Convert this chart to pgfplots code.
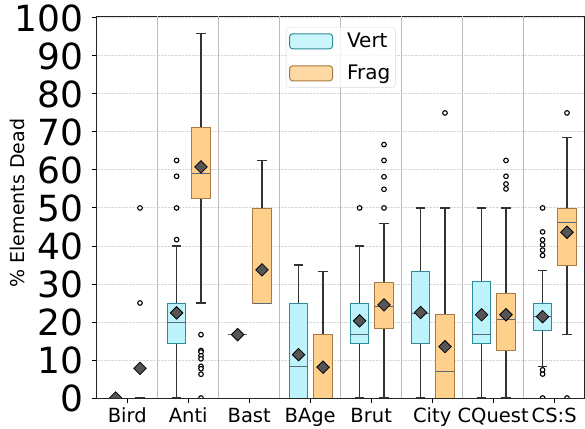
\documentclass[border=0pt]{standalone}
\usepackage{fontspec}
\setmainfont{DejaVu Sans}
\usepackage{pgfplots}
\pgfplotsset{compat=1.18}
\usepgfplotslibrary{statistics}

\definecolor{vertfill}{HTML}{BDF3FB}
\definecolor{vertedge}{HTML}{2E8B9A}
\definecolor{fragfill}{HTML}{FFD08C}
\definecolor{fragedge}{HTML}{A87A45}
\definecolor{medcol}{HTML}{5A6878}
\definecolor{whisk}{HTML}{333333}
\definecolor{meanfill}{HTML}{555555}
\definecolor{gridcol}{HTML}{D8D8D8}
\definecolor{sepcol}{HTML}{BBBBBB}

\pgfplotsset{
  bx/.style={forget plot, line width=0.8bp,
    boxplot/draw direction=y,
    boxplot/box extend=0.3, boxplot/whisker extend=0.155,
    boxplot/every whisker/.style={draw=whisk, line width=1.2bp},
    boxplot/every median/.style={draw=medcol, line width=0.9bp}},
  vbox/.style={bx, draw=vertedge,
    boxplot/every box/.style={fill=vertfill, draw=vertedge}},
  fbox/.style={bx, draw=fragedge,
    boxplot/every box/.style={fill=fragfill, draw=fragedge}},
}

\begin{document}
\begin{tikzpicture}
\begin{axis}[
  at={(0,0)}, anchor=south west,
  scale only axis, width=488bp, height=382bp,
  xmin=0.5, xmax=8.5, ymin=0, ymax=100.5,
  xtick={1,...,8},
  xticklabels={Bird,Anti,Bast,BAge,Brut,City,CQuest,CS:S},
  ytick={0,10,...,100},
  tick align=outside, tick pos=left,
  major tick length=5bp,
  tick style={line width=0.9bp, black},
  axis line style={line width=0.9bp, black!85},
  ymajorgrids,
  major grid style={densely dotted, gridcol, line width=0.9bp},
  extra x ticks={1.5,2.5,...,7.5},
  extra x tick labels={},
  extra x tick style={xmajorgrids=true, major tick length=0pt,
    major grid style={solid, sepcol, line width=1.4bp}},
  /pgf/number format/assume math mode=true,
  yticklabel style={font=\fontsize{36bp}{36bp}\selectfont, inner sep=0pt, xshift=-8bp},
  xticklabel style={font=\fontsize{19.5bp}{19.5bp}\selectfont, anchor=base, inner sep=0pt, yshift=-19bp},
  ylabel={\% Elements Dead},
  ylabel style={font=\fontsize{19bp}{19bp}\selectfont, at={(axis description cs:-0.147,0.51)}, anchor=base},
  clip marker paths=true,
  legend style={at={(axis description cs:0.5,0.971)}, anchor=north,
    draw=black!15, rounded corners=3bp, fill=white, fill opacity=0.8, text opacity=1,
    font=\fontsize{20bp}{20bp}\selectfont, inner xsep=3bp, inner ysep=4bp,
    row sep=12bp, /tikz/every odd column/.append style={column sep=12bp}},
  legend cell align=left,
]

% Vert boxes
\addplot[vbox, boxplot prepared={draw position=0.81, lower whisker=0, lower quartile=0, median=0, upper quartile=0, upper whisker=0}] coordinates {};
\addplot[vbox, boxplot prepared={draw position=1.81, lower whisker=0, lower quartile=14.29, median=20, upper quartile=25, upper whisker=40}] coordinates {};
\addplot[vbox, boxplot prepared={draw position=2.81, lower whisker=16.67, lower quartile=16.67, median=16.67, upper quartile=16.67, upper whisker=16.67}] coordinates {};
\addplot[vbox, boxplot prepared={draw position=3.81, lower whisker=0, lower quartile=0, median=8.33, upper quartile=25, upper whisker=35}] coordinates {};
\addplot[vbox, boxplot prepared={draw position=4.81, lower whisker=0, lower quartile=14.29, median=16.67, upper quartile=25, upper whisker=40}] coordinates {};
\addplot[vbox, boxplot prepared={draw position=5.81, lower whisker=0, lower quartile=14.29, median=22.2, upper quartile=33.33, upper whisker=50}] coordinates {};
\addplot[vbox, boxplot prepared={draw position=6.81, lower whisker=0, lower quartile=14.29, median=16.67, upper quartile=30.8, upper whisker=50}] coordinates {};
\addplot[vbox, boxplot prepared={draw position=7.81, lower whisker=8.33, lower quartile=17.9, median=21.4, upper quartile=25, upper whisker=33.5}] coordinates {};

% Frag boxes
\addplot[fbox, boxplot prepared={draw position=1.21, lower whisker=0, lower quartile=0, median=0, upper quartile=0, upper whisker=0}] coordinates {};
\addplot[fbox, boxplot prepared={draw position=2.21, lower whisker=25, lower quartile=52.6, median=59.1, upper quartile=71.3, upper whisker=95.8}] coordinates {};
\addplot[fbox, boxplot prepared={draw position=3.21, lower whisker=25, lower quartile=25, median=25, upper quartile=50, upper whisker=62.5}] coordinates {};
\addplot[fbox, boxplot prepared={draw position=4.21, lower whisker=0, lower quartile=0, median=0, upper quartile=16.67, upper whisker=33.33}] coordinates {};
\addplot[fbox, boxplot prepared={draw position=5.21, lower whisker=0, lower quartile=18.2, median=24.2, upper quartile=30.3, upper whisker=46}] coordinates {};
\addplot[fbox, boxplot prepared={draw position=6.21, lower whisker=0, lower quartile=0, median=6.9, upper quartile=22, upper whisker=50}] coordinates {};
\addplot[fbox, boxplot prepared={draw position=7.21, lower whisker=0, lower quartile=12.5, median=20.6, upper quartile=27.4, upper whisker=50}] coordinates {};
\addplot[fbox, boxplot prepared={draw position=8.21, lower whisker=16.8, lower quartile=35, median=46.1, upper quartile=50, upper whisker=68.5}] coordinates {};

% outliers
\addplot[forget plot, only marks, mark=*, mark size=2.3bp,
  mark options={draw=black, fill=white, line width=1.1bp}] coordinates {
  (1.21,25) (1.21,50)
  (1.81,41.67) (1.81,50) (1.81,58.33) (1.81,62.5)
  (2.21,16.67) (2.21,12.5) (2.21,12.1) (2.21,11.1) (2.21,10.3) (2.21,8.33) (2.21,7.7) (2.21,6.25) (2.21,0)
  (4.81,50)
  (5.21,50) (5.21,54.9) (5.21,58.2) (5.21,62.5) (5.21,66.67)
  (6.21,75)
  (7.21,55) (7.21,56.3) (7.21,58.33) (7.21,62.5)
  (7.81,0) (7.81,6.3) (7.81,7.4) (7.81,37.5) (7.81,38.9) (7.81,40.3) (7.81,41.6) (7.81,43.7) (7.81,50)
  (8.21,0) (8.21,75)
};

% means
\addplot[forget plot, only marks, mark=square*, mark size=4.4bp,
  mark options={rotate=45, fill=meanfill, draw=black, line width=0.8bp}] coordinates {
  (0.81,0) (1.81,22.4) (2.81,16.67) (3.81,11.4) (4.81,20.3) (5.81,22.5) (6.81,21.9) (7.81,21.4)
  (1.21,7.8) (2.21,60.8) (3.21,33.7) (4.21,8.1) (5.21,24.5) (6.21,13.5) (7.21,21.9) (8.21,43.6)
};

\addlegendimage{legend image code/.code={\draw[fill=vertfill, draw=vertedge, line width=1bp] (0bp,-7.5bp) rectangle (43bp,7.5bp);}}
\addlegendentry{Vert}
\addlegendimage{legend image code/.code={\draw[fill=fragfill, draw=fragedge, line width=1bp] (0bp,-7.5bp) rectangle (43bp,7.5bp);}}
\addlegendentry{Frag}
\end{axis}
\pgfresetboundingbox
\useasboundingbox (-96.7bp,-31bp) rectangle (488.3bp,398bp);
\end{tikzpicture}
\end{document}
